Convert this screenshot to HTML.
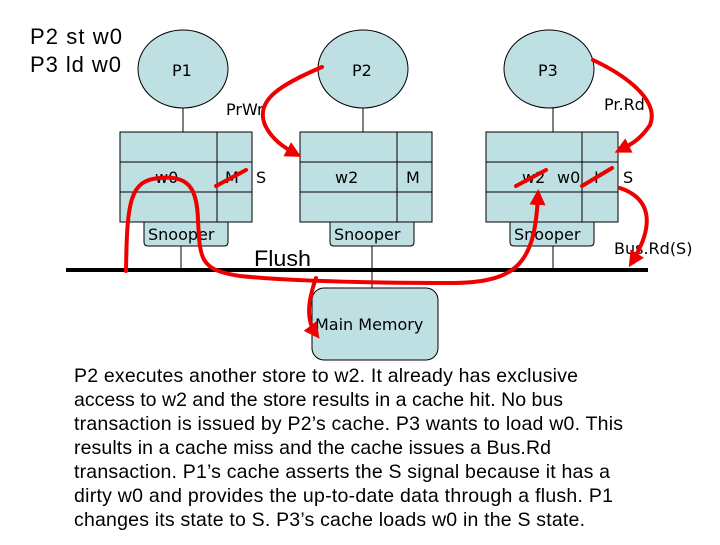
<!DOCTYPE html>
<html><head><style>
body{margin:0;width:720px;height:540px;background:#fff;overflow:hidden}
</style></head><body>
<svg width="720" height="540" viewBox="0 0 720 540" xmlns="http://www.w3.org/2000/svg">
<defs><marker id="a" markerWidth="4" markerHeight="4" refX="2.5" refY="2" orient="auto" markerUnits="strokeWidth"><path d="M0,0 L4,2 L0,4 z" fill="#e00"/></marker></defs>
<g font-family="'Liberation Sans',sans-serif" font-size="22" fill="#000" lengthAdjust="spacingAndGlyphs">
<text x="30" y="44" textLength="92">P2 st w0</text>
<text x="30" y="72" textLength="91">P3 ld w0</text>
</g>
<g stroke="#000" stroke-width="1" fill="#bfe0e3">
<line x1="183" y1="106" x2="183" y2="132"/><line x1="363" y1="106" x2="363" y2="132"/><line x1="553" y1="106" x2="553" y2="132"/>
<line x1="181" y1="246" x2="181" y2="270"/><line x1="372" y1="246" x2="372" y2="290"/><line x1="553" y1="246" x2="553" y2="270"/>
<ellipse cx="183" cy="69" rx="45" ry="39"/><ellipse cx="363" cy="69" rx="45" ry="39"/><ellipse cx="549" cy="69" rx="45" ry="39"/>
<rect x="120" y="132" width="132" height="90"/><line x1="120" y1="162" x2="252" y2="162"/><line x1="120" y1="192" x2="252" y2="192"/><line x1="217" y1="132" x2="217" y2="222"/>
<rect x="300" y="132" width="132" height="90"/><line x1="300" y1="162" x2="432" y2="162"/><line x1="300" y1="192" x2="432" y2="192"/><line x1="397" y1="132" x2="397" y2="222"/>
<rect x="486" y="132" width="132" height="90"/><line x1="486" y1="162" x2="618" y2="162"/><line x1="486" y1="192" x2="618" y2="192"/><line x1="582" y1="132" x2="582" y2="222"/>
<path d="M144,222 H228 V242 Q228,246 224,246 H148 Q144,246 144,242 Z"/>
<path d="M330,222 H414 V242 Q414,246 410,246 H334 Q330,246 330,242 Z"/>
<path d="M510,222 H594 V242 Q594,246 590,246 H514 Q510,246 510,242 Z"/>
<rect x="312" y="288" width="126" height="72" rx="12"/>
</g>
<line x1="66" y1="270" x2="648" y2="270" stroke="#000" stroke-width="4"/>
<g font-family="'DejaVu Sans',sans-serif" font-size="16" fill="#000">
<text x="172" y="76">P1</text><text x="352" y="76">P2</text><text x="538" y="76">P3</text>
<text x="226" y="115">PrWr</text><text x="604" y="110">Pr.Rd</text>
<text x="155" y="183">w0</text><text x="225" y="183">M</text><text x="256" y="183">S</text>
<text x="335" y="183">w2</text><text x="406" y="183">M</text>
<text x="522" y="183">w2</text><text x="557" y="183">w0</text><text x="594" y="183">I</text><text x="623" y="183">S</text>
<text x="148" y="240">Snooper</text><text x="334" y="240">Snooper</text><text x="514" y="240">Snooper</text>
<text x="614" y="254">Bus.Rd(S)</text>
<text x="315" y="330">Main Memory</text>
</g>
<text x="254" y="266" font-family="'Liberation Sans',sans-serif" font-size="22" textLength="57" lengthAdjust="spacingAndGlyphs">Flush</text>
<g font-family="'Liberation Sans',sans-serif" font-size="19.5" fill="#000" lengthAdjust="spacingAndGlyphs">
<text x="74" y="382" textLength="504">P2 executes another store to w2. It already has exclusive</text>
<text x="74" y="406" textLength="489">access to w2 and the store results in a cache hit. No bus</text>
<text x="74" y="430" textLength="549">transaction is issued by P2’s cache. P3 wants to load w0. This</text>
<text x="74" y="454" textLength="477">results in a cache miss and the cache issues a Bus.Rd</text>
<text x="74" y="478" textLength="536">transaction. P1’s cache asserts the S signal because it has a</text>
<text x="74" y="502" textLength="539">dirty w0 and provides the up-to-date data through a flush. P1</text>
<text x="74" y="526" textLength="511">changes its state to S. P3’s cache loads w0 in the S state.</text>
</g>
<g stroke="#e00" stroke-width="4" fill="none" stroke-linecap="round">
<path d="M322,67 C280,85 255,100 265,125 C272,140 285,148 296,154" marker-end="url(#a)"/>
<path d="M593,60 C625,75 660,100 650,125 C640,140 630,145 620,150" marker-end="url(#a)"/>
<path d="M620,188 C655,200 652,230 632,262" marker-end="url(#a)"/>
<path d="M126,271 C127,200 130,180 160,178 C190,175 197,190 198,220 C200,260 200,270 240,276 C300,282 380,283 455,283 C520,282 535,260 538,195" marker-end="url(#a)"/>
<path d="M316,278 C310,295 304,318 316,334" marker-end="url(#a)"/>
<line x1="216" y1="186" x2="246" y2="170"/>
<line x1="516" y1="186" x2="546" y2="170"/>
<line x1="582" y1="186" x2="612" y2="168"/>
</g>
</svg>
</body></html>
